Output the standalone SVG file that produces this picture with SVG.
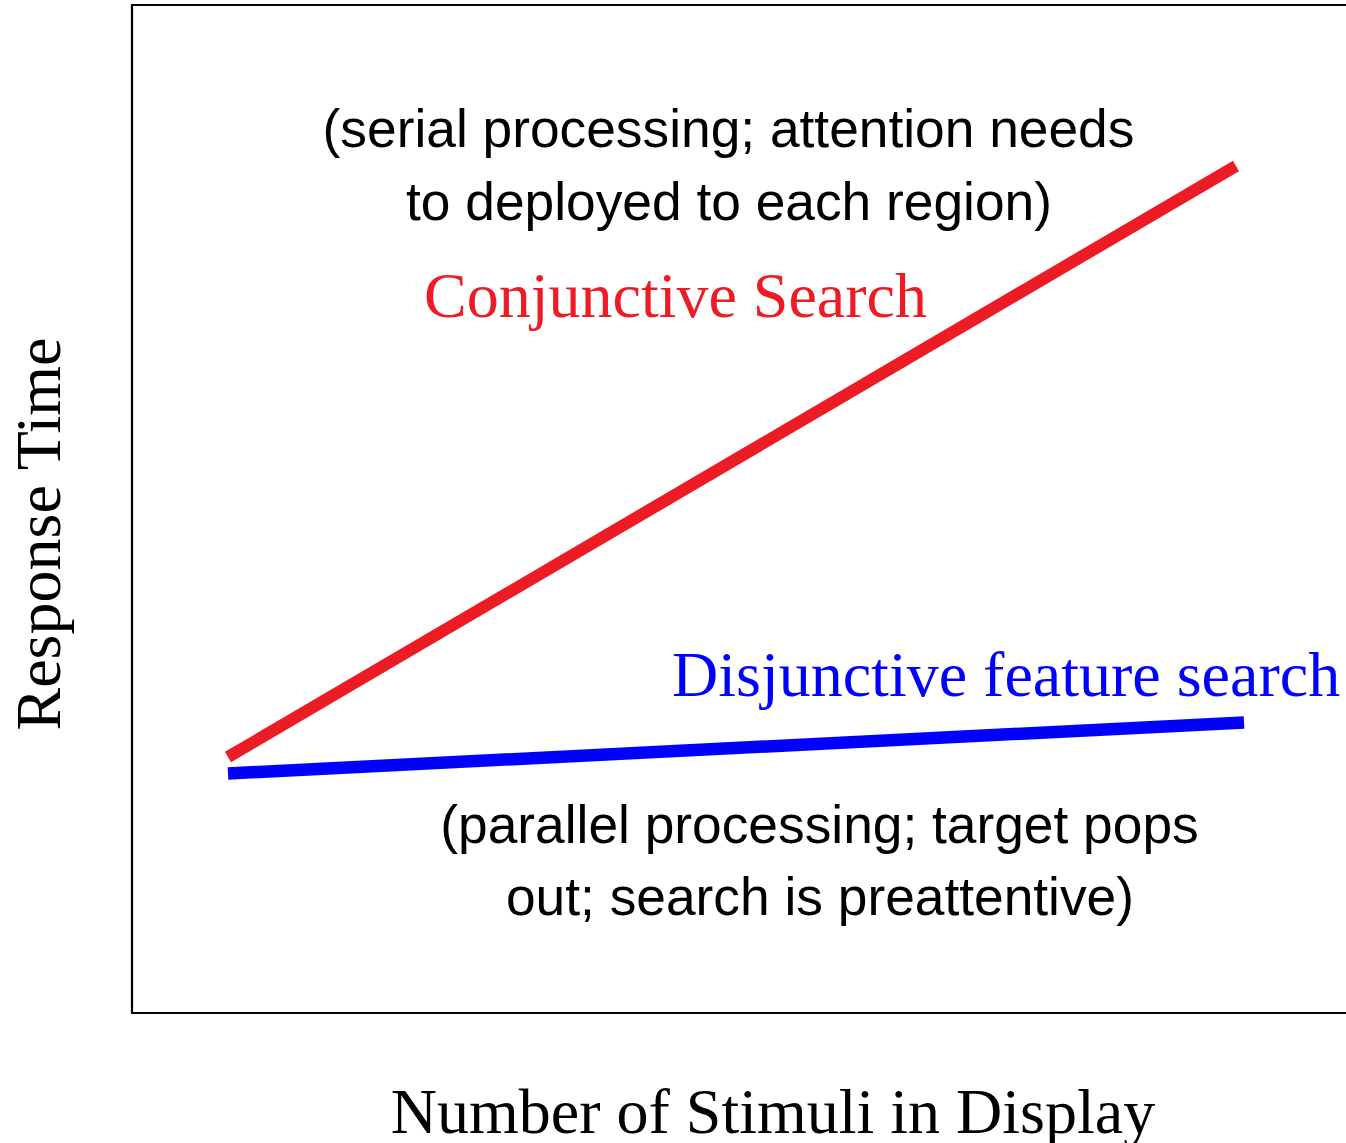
<svg xmlns="http://www.w3.org/2000/svg" width="1346" height="1143" viewBox="0 0 1346 1143">
<style>
.sans{font-family:"Liberation Sans",Arial,sans-serif;font-size:53.3px;fill:#000;text-anchor:middle}
.serif{font-family:"Liberation Serif","Times New Roman",serif;font-size:64px}
</style>
<rect width="1346" height="1143" fill="#fff"/>
<g id="frame"><path d="M1360 5 H132 V1013 H1360" fill="none" stroke="#000" stroke-width="2.2"/></g>
<g id="connectors">
<line x1="228" y1="757" x2="1236" y2="166" stroke="#ED1C24" stroke-width="12"/>
<line x1="228" y1="773.5" x2="1244" y2="722.5" stroke="#0000FF" stroke-width="12.5"/>
</g>
<g id="serial-note">
<text class="sans" x="728.5" y="147">(serial processing; attention needs</text>
<text class="sans" x="729" y="220">to deployed to each region)</text>
</g>
<g id="conjunctive"><text class="serif" x="424" y="317" fill="#ED1C24">Conjunctive Search</text></g>
<g id="disjunctive"><text class="serif" x="672" y="696" fill="#0000FF">Disjunctive feature search</text></g>
<g id="parallel-note">
<text class="sans" x="819.5" y="843">(parallel processing; target pops</text>
<text class="sans" x="820" y="915">out; search is preattentive)</text>
</g>
<g id="x-axis-label"><text class="serif" x="773" y="1133" text-anchor="middle" fill="#000">Number of Stimuli in Display</text></g>
<g id="y-axis-label"><text class="serif" transform="translate(60 534) rotate(-90)" text-anchor="middle" fill="#000">Response Time</text></g>
</svg>
